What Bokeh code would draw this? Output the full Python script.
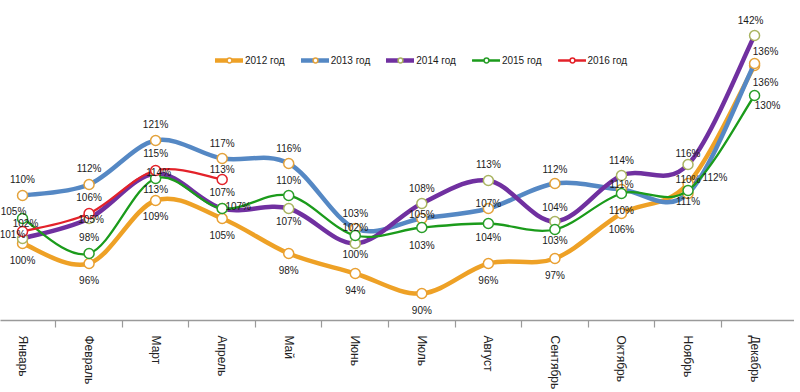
from bokeh.plotting import figure
from bokeh.models import Range1d, FixedTicker, Legend, LegendItem, ColumnDataSource
from bokeh.embed import file_html
from bokeh.resources import INLINE
from bokeh.core.properties import value

# ---------------- data ----------------
months = ["Январь", "Февраль", "Март", "Апрель", "Май", "Июнь",
          "Июль", "Август", "Сентябрь", "Октябрь", "Ноябрь", "Декабрь"]
series_names = ["2012 год", "2013 год", "2014 год", "2015 год", "2016 год"]

v2012 = [100, 96, 108.6, 105, 98, 94, 90, 96, 97, 106, 112, 135.6]
v2013 = [109.6, 111.8, 120.6, 117, 116, 103, 105, 107, 112, 110.8, 110, 136]
v2014 = [101, 105, 114, 107, 107, 100, 108, 112.6, 104.4, 113.6, 115.8, 141.6]
v2015 = [105, 98, 113, 107, 109.6, 101.6, 103.2, 104, 102.8, 110, 110.6, 129.6]
v2016 = [102.4, 106, 114.6, 112.8]

# ---------------- styles ----------------
line_colors = ["#EEA126", "#5588C4", "#7030A0", "#1B9B1B", "#E3222A"]
marker_lines = ["#E9A033", "#E3A23C", "#A9B461", "#2A9E2A", "#E3222A"]
line_widths = [4.5, 4.5, 4.5, 2.3, 2.3]

# label offsets (screen px) per point
lab_2012 = [(0, 17), (0, 17), (0, 16), (0, 17), (0, 17), (0, 17), (0, 17), (0, 17), (0, 17), (0, 16), (27, -6), (11, 17)]
lab_2013 = [(0, -16), (0, -16), (0, -16), (0, -15), (0, -15), (0, -15), (0, -4), (0, -5), (0, -14), (0, -5), (0, -14), (11, -12)]
lab_2014 = [(-10, -4), (2, 1), (3, -1), (16, -2), (0, 13), (0, 11), (0, -15), (0, -16), (0, -14), (0, -15), (0, -11), (-4, -15)]
lab_2015 = [(-9, -7), (0, -16), (0, 11), (0, -16), (0, -15), (0, -8), (0, 18), (0, 14), (0, 11), (0, 17), (0, 11), (13, 10)]
lab_2016 = [(3, -8), (0, -16), (0, -17), (0, -10)]

all_vals = [v2012, v2013, v2014, v2015, v2016]
all_labs = [lab_2012, lab_2013, lab_2014, lab_2015, lab_2016]

FONT = "Liberation Sans"

p = figure(width=794, height=392, output_backend="svg", toolbar_location=None,
           x_range=Range1d(-0.331, 11.6), y_range=Range1d(84.6, 148.6),
           min_border_left=0, min_border_right=0, min_border_top=0, min_border_bottom=72)
p.outline_line_color = None
p.grid.visible = False
p.yaxis.visible = False
p.background_fill_color = "white"

ax = p.xaxis[0]
ax.ticker = FixedTicker(ticks=list(range(12)), minor_ticks=[i + 0.5 for i in range(11)])
ax.major_label_overrides = {i: m for i, m in enumerate(months)}
ax.major_label_orientation = "vertical"
ax.major_tick_line_color = None
ax.major_tick_out = 0
ax.major_tick_in = 0
ax.minor_tick_out = 7
ax.minor_tick_in = 0
ax.minor_tick_line_color = "#9a9a9a"
ax.minor_tick_line_width = 1.2
ax.axis_line_color = "#9a9a9a"
ax.axis_line_width = 1.6
ax.major_label_standoff = 8
ax.major_label_text_font = FONT
ax.major_label_text_font_size = "12px"
ax.major_label_text_color = "#222222"


def bezier_source(ys):
    n = len(ys)
    xs = list(range(n))
    d = dict(x0=[], y0=[], x1=[], y1=[], cx0=[], cy0=[], cx1=[], cy1=[])
    for i in range(n - 1):
        ax_, ay_ = (xs[i - 1], ys[i - 1]) if i > 0 else (xs[i], ys[i])
        bx_, by_ = (xs[i + 2], ys[i + 2]) if i + 2 < n else (xs[i + 1], ys[i + 1])
        d["x0"].append(xs[i]); d["y0"].append(ys[i])
        d["x1"].append(xs[i + 1]); d["y1"].append(ys[i + 1])
        d["cx0"].append(xs[i] + (xs[i + 1] - ax_) / 6.0)
        d["cy0"].append(ys[i] + (ys[i + 1] - ay_) / 6.0)
        d["cx1"].append(xs[i + 1] - (bx_ - xs[i]) / 6.0)
        d["cy1"].append(ys[i + 1] - (by_ - ys[i]) / 6.0)
    return ColumnDataSource(d)


items = []
for k, vals in enumerate(all_vals):
    bsrc = bezier_source(vals)
    br = p.bezier(x0="x0", y0="y0", x1="x1", y1="y1", cx0="cx0", cy0="cy0",
                  cx1="cx1", cy1="cy1", source=bsrc, line_color=line_colors[k],
                  line_width=line_widths[k], line_cap="round")
    msrc = ColumnDataSource(dict(x=list(range(len(vals))), y=vals))
    mr = p.scatter(x="x", y="y", source=msrc, size=10, marker="circle",
                   fill_color="white", line_color=marker_lines[k], line_width=1.5)
    items.append(LegendItem(label=series_names[k], renderers=[br, mr]))

for k, vals in enumerate(all_vals):
    labs = all_labs[k]
    tsrc = ColumnDataSource(dict(
        x=list(range(len(vals))), y=vals,
        t=["%d%%" % int(round(v)) for v in vals],
        dx=[o[0] for o in labs], dy=[o[1] for o in labs]))
    p.text(x="x", y="y", text="t", source=tsrc, x_offset="dx", y_offset="dy",
           text_align="center", text_baseline="middle",
           text_font=value(FONT), text_font_size="10px", text_color="#1a1a1a")

legend = Legend(items=items, orientation="horizontal", location=(215, 254),
                glyph_width=28, glyph_height=12, label_height=12,
                label_standoff=2, spacing=16, padding=0, margin=0,
                border_line_color=None, background_fill_alpha=0,
                label_text_font=FONT, label_text_font_size="10px",
                label_text_color="#1a1a1a")
p.add_layout(legend, "center")

open("out.html", "w").write(file_html(p, INLINE))
